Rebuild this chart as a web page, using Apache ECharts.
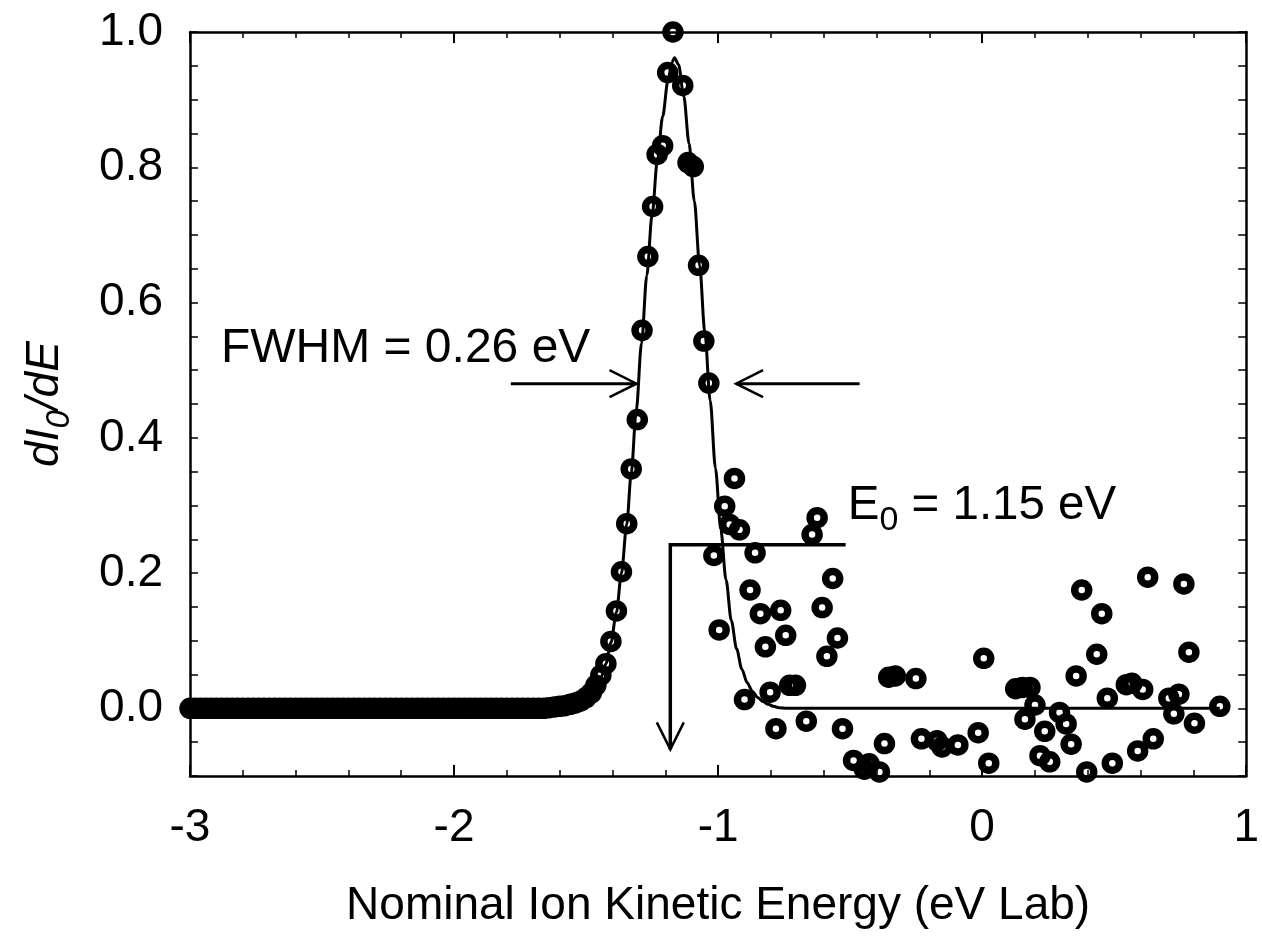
<!DOCTYPE html>
<html>
<head>
<meta charset="utf-8">
<script src="https://cdn.jsdelivr.net/npm/echarts@6/dist/echarts.min.js"></script>
<style>
html,body{margin:0;padding:0;background:#fff;}
#chart{width:1262px;height:936px;}
</style>
</head>
<body>
<div id="chart"></div>
<script>
// ---- data ----
const baselineEnergy = [
 -3.00,-2.98,-2.96,-2.94,-2.92,-2.90,-2.88,-2.86,-2.84,-2.82,
 -2.80,-2.78,-2.76,-2.74,-2.72,-2.70,-2.68,-2.66,-2.64,-2.62,
 -2.60,-2.58,-2.56,-2.54,-2.52,-2.50,-2.48,-2.46,-2.44,-2.42,
 -2.40,-2.38,-2.36,-2.34,-2.32,-2.30,-2.28,-2.26,-2.24,-2.22,
 -2.20,-2.18,-2.16,-2.14,-2.12,-2.10,-2.08,-2.06,-2.04,-2.02,
 -2.00,-1.98,-1.96,-1.94,-1.92,-1.90,-1.88,-1.86,-1.84,-1.82,
 -1.80,-1.78,-1.76,-1.74,-1.72,-1.70,-1.68,-1.66,
 -1.64,-1.62,-1.60,-1.58,-1.56,-1.54,-1.52,-1.50,-1.48
];
const baselineSignal = [
 0,0,0,0,0,0,0,0,0,0,
 0,0,0,0,0,0,0,0,0,0,
 0,0,0,0,0,0,0,0,0,0,
 0,0,0,0,0,0,0,0,0,0,
 0,0,0,0,0,0,0,0,0,0,
 0,0,0,0,0,0,0,0,0,0,
 0,0,0,0,0,0,0,0,
 0.001,0.002,0.003,0.004,0.006,0.008,0.011,0.016,0.023
];
const peakEnergy = [
 -1.463,-1.444,-1.425,-1.406,-1.385,-1.366,-1.346,-1.329,-1.306,-1.288,
 -1.266,-1.248,-1.231,-1.210,-1.191,-1.171,-1.134,-1.114,-1.094,-1.074,
 -1.054,-1.035,-1.016,-0.996,-0.975,-0.956,-0.938,-0.919,-0.900,-0.879,
 -0.860,-0.840,-0.821,-0.803,-0.781,-0.763,-0.744,-0.729,-0.707,-0.666,
 -0.644,-0.625,-0.606,-0.588,-0.566,-0.548,-0.529,-0.487,-0.446,-0.428,
 -0.389,-0.370,-0.354,-0.329,-0.251,-0.230,-0.171,-0.152,-0.092,-0.015,
 0.006,0.025,0.127,0.152,0.162,0.181,0.200,0.219,0.237,0.256,
 0.293,0.318,0.337,0.356,0.377,0.396,0.434,0.453,0.474,0.493,
 0.546,0.567,0.589,0.608,0.627,0.648,0.707,0.726,0.745,0.764,
 0.783,0.804,0.900
];
const peakSignal = [
 0.034,0.049,0.066,0.099,0.144,0.202,0.273,0.354,0.427,0.559,
 0.668,0.742,0.819,0.832,0.940,1.000,0.921,0.807,0.801,0.655,
 0.543,0.481,0.226,0.116,0.299,0.272,0.340,0.264,0.013,0.175,
 0.230,0.140,0.091,0.024,-0.030,0.145,0.108,0.034,0.034,-0.019,
 0.257,0.282,0.149,0.077,0.192,0.104,-0.030,-0.077,-0.090,-0.082,
 -0.094,-0.052,0.046,0.048,0.044,-0.045,-0.048,-0.057,-0.054,-0.036,
 0.074,-0.081,0.029,0.031,-0.016,0.031,0.005,-0.070,-0.034,-0.079,
 -0.006,-0.023,-0.053,0.048,0.175,-0.094,0.080,0.140,0.015,-0.081,
 0.035,0.037,-0.063,0.028,0.194,-0.045,0.015,-0.008,0.021,0.184,
 0.083,-0.022,0.003
];
const fitEnergy = [
 -3.0,-1.70,-1.62,-1.56,-1.52,-1.48,-1.444,-1.425,-1.406,-1.385,
 -1.366,-1.346,-1.329,-1.31,-1.29,-1.27,-1.25,-1.23,-1.21,-1.19,
 -1.175,-1.165,-1.15,-1.13,-1.11,-1.09,-1.07,-1.05,-1.03,-1.01,
 -0.99,-0.97,-0.95,-0.93,-0.91,-0.89,-0.87,-0.85,-0.83,-0.81,
 -0.79,-0.77,-0.74,0.90
];
const fitSignal = [
 0,0,0.002,0.006,0.011,0.023,0.045,0.066,0.097,0.142,
 0.200,0.272,0.348,0.440,0.540,0.640,0.730,0.810,0.875,0.928,
 0.955,0.962,0.952,0.905,0.835,0.750,0.655,0.555,0.455,0.355,
 0.265,0.190,0.130,0.088,0.058,0.038,0.025,0.016,0.010,0.006,
 0.003,0.001,0,0
];
const xTicks = {min:-3, max:1, interval:1};
const yTicks = {min:-0.1, max:1.0, interval:0.05};
const fwhmLabel = 'FWHM = 0.26 eV';
const e0Label = '{a|E}{b|0}{a| = 1.15 eV}';
const xTitle = 'Nominal Ion Kinetic Energy (eV Lab)';
const yTitle = '{a|dI}{b|0}{a|/dE}';
// annotation anchors in data units
const fwhmLeftArrow = [[-1.785,0.480],[-1.309,0.480]];
const fwhmRightArrow = [[-0.464,0.480],[-0.932,0.480]];
const e0Marker = [[-0.517,0.242],[-1.181,0.242],[-1.181,-0.0606]];
const fwhmTextAt = [-2.883,0.532];
const e0TextAt = [-0.509,0.300];

// ---- build ----
const FONT = '"Liberation Sans", Arial, Helvetica, sans-serif';
const scatterData = [];
baselineEnergy.forEach((x,i)=>scatterData.push([x, baselineSignal[i]]));
peakEnergy.forEach((x,i)=>scatterData.push([x, peakSignal[i]]));
const fitData = fitEnergy.map((x,i)=>[x, fitSignal[i]]);

const chart = echarts.init(document.getElementById('chart'), null, {renderer:'canvas'});
const axisLineStyle = {color:'#000', width:2.5};
function yLabel(v){
  const k = Math.round(v*100);
  if (k % 20 !== 0) return '';
  return (Math.abs(v) < 1e-9 ? 0 : v).toFixed(1);
}
const option = {
  animation:false,
  backgroundColor:'#fff',
  grid:{left:190, right:12, top:32, bottom:160},
  xAxis:[{
    type:'value', min:xTicks.min, max:xTicks.max, interval:xTicks.interval, position:'bottom',
    axisLine:{onZero:false, lineStyle:axisLineStyle},
    axisTick:{inside:true, length:11, lineStyle:{color:'#000', width:2}},
    minorTick:{show:true, splitNumber:5, length:6, lineStyle:{color:'#000', width:1.5}},
    splitLine:{show:false}, minorSplitLine:{show:false},
    axisLabel:{fontSize:46, color:'#000', fontFamily:FONT, margin:29},
    name:xTitle, nameLocation:'middle', nameGap:107,
    nameTextStyle:{fontSize:46, color:'#000', fontFamily:FONT}
  },{
    type:'value', min:xTicks.min, max:xTicks.max, interval:xTicks.interval, position:'top',
    axisLine:{onZero:false, lineStyle:axisLineStyle},
    axisTick:{inside:true, length:11, lineStyle:{color:'#000', width:2}},
    minorTick:{show:true, splitNumber:5, length:6, lineStyle:{color:'#000', width:1.5}},
    splitLine:{show:false}, axisLabel:{show:false}
  }],
  yAxis:[{
    type:'value', min:yTicks.min, max:yTicks.max, interval:yTicks.interval, position:'left',
    axisLine:{onZero:false, lineStyle:axisLineStyle},
    axisTick:{inside:true, length:8, lineStyle:{color:'#000', width:1.5}},
    splitLine:{show:false},
    axisLabel:{fontSize:46, color:'#000', fontFamily:FONT, margin:27, formatter:yLabel, showMinLabel:true, showMaxLabel:true}
  },{
    type:'value', min:yTicks.min, max:yTicks.max, interval:yTicks.interval, position:'right',
    axisLine:{onZero:false, lineStyle:axisLineStyle},
    axisTick:{inside:true, length:8, lineStyle:{color:'#000', width:1.5}},
    splitLine:{show:false}, axisLabel:{show:false}
  }],
  series:[{
    type:'scatter', xAxisIndex:0, yAxisIndex:0, data:scatterData, symbol:'circle', symbolSize:14,
    clip:false, z:2,
    itemStyle:{color:'rgba(255,255,255,0)', borderColor:'#000', borderWidth:7.5, opacity:1},
    emphasis:{disabled:true}
  },{
    type:'line', xAxisIndex:0, yAxisIndex:0, data:fitData, showSymbol:false, symbol:'none',
    smooth:0.3, smoothMonotone:'x', z:3, clip:false,
    lineStyle:{color:'#000', width:3}
  }]
};
chart.setOption(option);

function px(p){ return chart.convertToPixel({xAxisIndex:0, yAxisIndex:0}, p); }
function head(tailPx, tipPx, len, half){
  const dx = tipPx[0]-tailPx[0], dy = tipPx[1]-tailPx[1];
  const L = Math.hypot(dx,dy); const d=[dx/L, dy/L]; const n=[-d[1], d[0]];
  return [[tipPx[0]-d[0]*len+n[0]*half, tipPx[1]-d[1]*len+n[1]*half], tipPx,
          [tipPx[0]-d[0]*len-n[0]*half, tipPx[1]-d[1]*len-n[1]*half]];
}
const els = [];
function arrow(pts, shaftW){
  const P = pts.map(px);
  els.push({type:'polyline', shape:{points:P}, style:{stroke:'#000', lineWidth:shaftW, fill:null}, z:10});
  els.push({type:'polyline', shape:{points:head(P[P.length-2], P[P.length-1], 27, 13.5)},
            style:{stroke:'#000', lineWidth:2.5, fill:null}, z:10});
}
arrow(fwhmLeftArrow, 3);
arrow(fwhmRightArrow, 3);
arrow(e0Marker, 3.5);
const ft = px(fwhmTextAt);
els.push({type:'text', x:ft[0], y:ft[1], z:10,
  style:{text:fwhmLabel, fontSize:48, fontFamily:FONT, fill:'#000', align:'left', verticalAlign:'middle'}});
const et = px(e0TextAt);
els.push({type:'text', x:et[0], y:et[1], z:10,
  style:{text:e0Label, fill:'#000', align:'left', verticalAlign:'middle',
    rich:{a:{fontSize:47.5, fontFamily:FONT, fill:'#000'}, b:{fontSize:34, fontFamily:FONT, fill:'#000', padding:[30,0,0,0]}}}});
const grid = chart.getModel().getComponent('grid').coordinateSystem.getRect();
els.push({type:'text', x:grid.x-145, y:grid.y+grid.height/2, rotation:Math.PI/2, z:10,
  style:{text:yTitle, fill:'#000', align:'center', verticalAlign:'middle',
    rich:{a:{fontSize:46, fontFamily:FONT, fontStyle:'italic', fill:'#000'},
          b:{fontSize:33, fontFamily:FONT, fontStyle:'italic', fill:'#000', padding:[30,0,0,0]}}}});
chart.setOption({graphic:{elements:els}});
</script>
</body>
</html>
